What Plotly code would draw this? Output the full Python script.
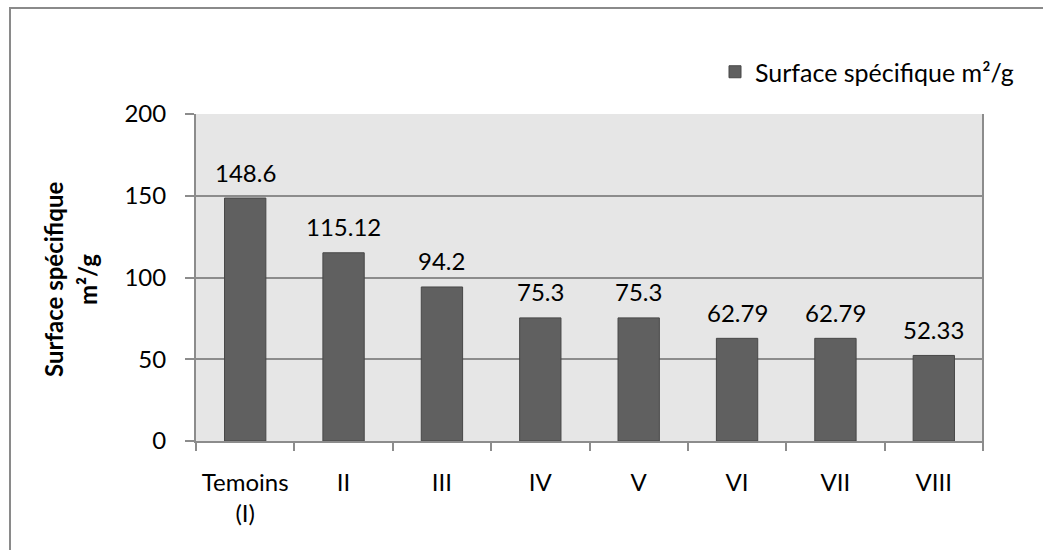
import plotly.graph_objects as go

categories = ["Temoins<br>(I)", "II", "III", "IV", "V", "VI", "VII", "VIII"]
surface = [148.6, 115.12, 94.2, 75.3, 75.3, 62.79, 62.79, 52.33]
labels = ["148.6", "115.12", "94.2", "75.3", "75.3", "62.79", "62.79", "52.33"]
y_ticks = [0, 50, 100, 150, 200]

FONT = "Lato"
FS = 24
W, H = 1043, 550
ML, MR, MT, MB = 196, 60, 114, 109
pw, ph = W - ML - MR, H - MT - MB

fig = go.Figure()
fig.add_trace(go.Bar(
    x=categories, y=surface, name="Surface spécifique m²/g",
    marker=dict(color="#606060", line=dict(color="#474747", width=1)),
    width=0.42,
))

# value labels above each bar
for cat, val, lab in zip(categories, surface, labels):
    fig.add_annotation(x=cat, y=val, text=lab, showarrow=False,
                       yanchor="middle", yshift=26,
                       font=dict(family=FONT, size=FS, color="#000000"))

# two-line vertical axis title
fig.add_annotation(xref="paper", yref="paper", x=(53 - ML) / pw, y=(441 - 280) / ph,
                   text="<b>Surface spécifique</b>", textangle=-90, showarrow=False,
                   xanchor="center", yanchor="middle",
                   font=dict(family=FONT, size=FS, color="#000000"))
fig.add_annotation(xref="paper", yref="paper", x=(87 - ML) / pw, y=(441 - 280) / ph,
                   text="<b>m²/g</b>", textangle=-90, showarrow=False,
                   xanchor="center", yanchor="middle",
                   font=dict(family=FONT, size=FS, color="#000000"))

fig.update_layout(
    width=W, height=H,
    margin=dict(l=ML, r=MR, t=MT, b=MB, pad=0),
    paper_bgcolor="white", plot_bgcolor="#e6e6e6",
    font=dict(family=FONT, size=FS, color="#000000"),
    bargap=0.58,
    showlegend=True,
    legend=dict(x=(1019 - ML) / pw, y=1.0 + 42 / ph, xanchor="right", yanchor="middle",
                bgcolor="rgba(0,0,0,0)", font=dict(family=FONT, size=FS + 1),
                itemwidth=30),
    xaxis=dict(showline=True, linecolor="#8c8c8c", linewidth=2,
               ticks="outside", ticklen=8, tickcolor="#8c8c8c", tickwidth=2,
               tickson="boundaries", showgrid=False,
               tickfont=dict(family=FONT, size=FS), ticklabelstandoff=19),
    yaxis=dict(range=[0, 200], tickvals=y_ticks, showline=True,
               linecolor="#8c8c8c", linewidth=2, mirror=False,
               ticks="outside", ticklen=9, tickcolor="#8c8c8c", tickwidth=2,
               showgrid=True, gridcolor="#8c8c8c", gridwidth=2,
               zeroline=False, tickfont=dict(family=FONT, size=FS),
               ticklabelstandoff=14),
)

# right border of the plot area
fig.add_shape(type="line", xref="paper", yref="paper", x0=1, x1=1, y0=0, y1=1,
              line=dict(color="#8c8c8c", width=2))
# tick at the right end of the category axis
fig.add_shape(type="line", xref="paper", yref="paper", x0=1, x1=1, y0=0, y1=-8 / ph,
              line=dict(color="#8c8c8c", width=2))

# outer chart frame
fig.add_shape(type="rect", xref="paper", yref="paper",
              x0=(10 - ML) / pw, x1=(W + 20 - ML) / pw,
              y0=-(H + 20 - (H - MB)) / ph, y1=(H - MB - 8) / ph,
              line=dict(color="#8a8a8a", width=2), fillcolor="rgba(0,0,0,0)",
              layer="below")

fig.write_html("out.html")
